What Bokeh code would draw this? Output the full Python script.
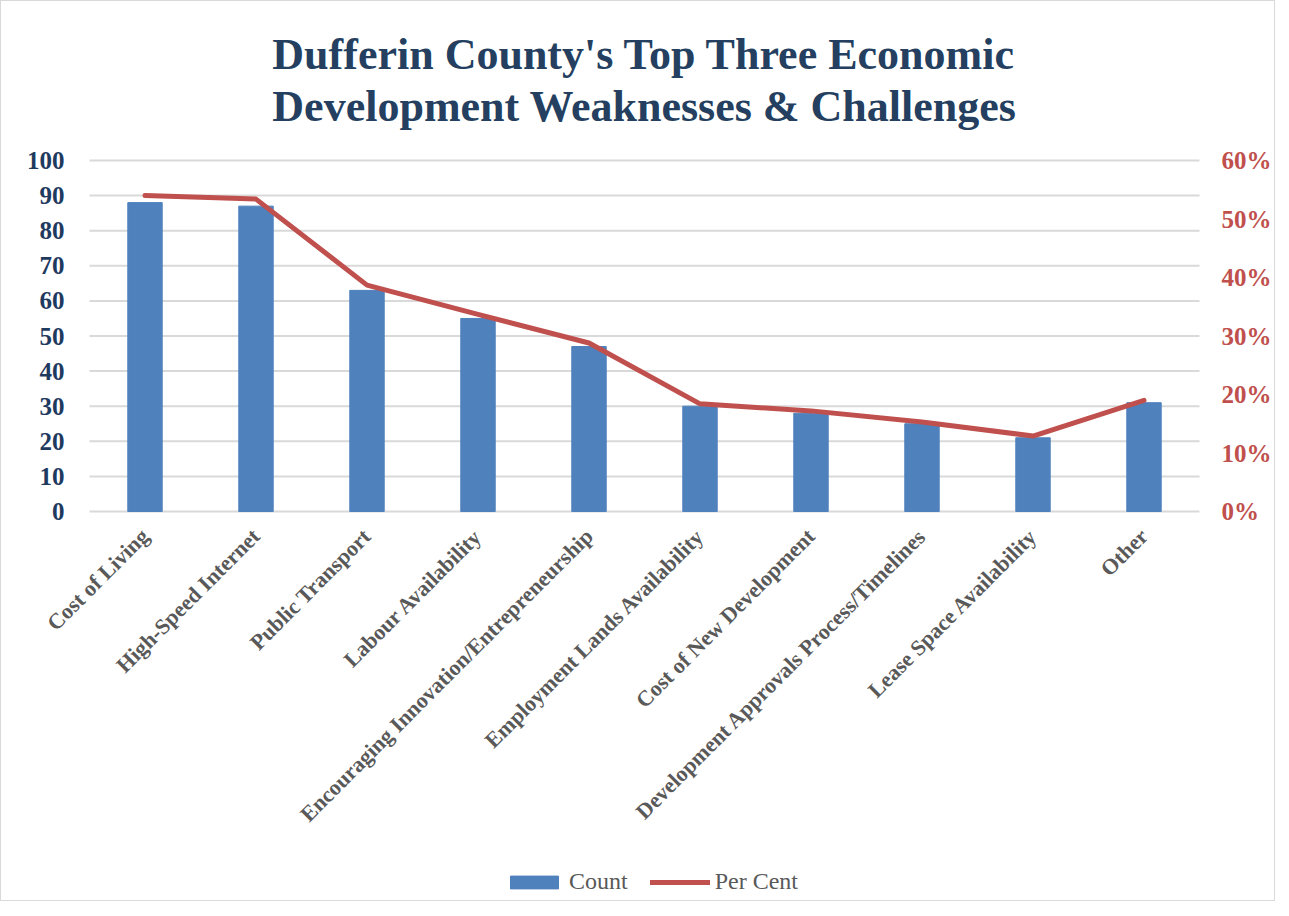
import math
from bokeh.plotting import figure
from bokeh.models import (Range1d, FactorRange, LinearAxis, FixedTicker,
                          NumeralTickFormatter, Legend, LegendItem, ColumnDataSource)
from bokeh.core.properties import value
from bokeh.embed import file_html
from bokeh.resources import INLINE

categories = ["Cost of Living", "High-Speed Internet", "Public Transport",
              "Labour Availability", "Encouraging Innovation/Entrepreneurship",
              "Employment Lands Availability", "Cost of New Development",
              "Development Approvals Process/Timelines", "Lease Space Availability",
              "Other"]
counts = [88, 87, 63, 55, 47, 30, 28, 25, 21, 31]
per_cent = [0.540, 0.534, 0.387, 0.337, 0.288, 0.184, 0.172, 0.153, 0.129, 0.190]
count_ticks = [0, 10, 20, 30, 40, 50, 60, 70, 80, 90, 100]
pct_ticks = [0.0, 0.1, 0.2, 0.3, 0.4, 0.5, 0.6]
count_max = 100
pct_max = 0.6

title_text = "Dufferin County's Top Three Economic\nDevelopment Weaknesses & Challenges"

SERIF = "Liberation Serif"
BLUE = "#4F81BD"
RED = "#C0504D"
NAVY = "#1F3A5F"
GRAY = "#595959"
GRID = "#D9D9D9"

# ---- layout (pixels) ----
CAT_PX = 111            # width of one category slot
SIDE_PAD = 48           # frame extends this far beyond the category band
BORDER_L = 40
FRAME_W = len(categories) * CAT_PX + 2 * SIDE_PAD
BORDER_R = 1271 - BORDER_L - FRAME_W
BAND_H = 351            # pixel height of the 0..100 value band
TOP_PAD = 3
BORDER_T = 155
FRAME_H = 898 - BORDER_T
PX_PER = BAND_H / count_max
y_end = count_max + TOP_PAD / PX_PER
y_start = -(FRAME_H - TOP_PAD - BAND_H) / PX_PER
ratio = pct_max / count_max

src = ColumnDataSource(dict(cat=categories, count=counts, pct=per_cent))

x_range = FactorRange(factors=categories, range_padding=SIDE_PAD / CAT_PX,
                      range_padding_units="absolute")

p = figure(x_range=x_range, y_range=Range1d(y_start, y_end),
           frame_width=FRAME_W, frame_height=FRAME_H,
           x_axis_location=None,
           output_backend="svg", toolbar_location=None,
           min_border_left=BORDER_L, min_border_right=BORDER_R,
           min_border_top=BORDER_T, min_border_bottom=0)
p.styles = {"border": "1px solid #D9D9D9"}
p.outline_line_color = None
p.extra_y_ranges = {"pct": Range1d(y_start * ratio, y_end * ratio)}
p.xgrid.grid_line_color = None
p.ygrid.grid_line_color = None

p.title.text = title_text
p.title.align = "center"
p.title.text_font = SERIF
p.title.text_font_style = "bold"
p.title.text_font_size = "44px"
p.title.text_line_height = 1.07
p.title.text_color = "#243F60"
p.title.standoff = 53

# horizontal gridlines spanning the category band
n = len(categories)
p.segment(x0=[0] * len(count_ticks), x1=[n] * len(count_ticks),
          y0=count_ticks, y1=count_ticks, line_color=GRID, line_width=2)

bars = p.vbar(x="cat", top="count", width=0.31, source=src, color=BLUE)
line = p.line(x="cat", y="pct", source=src, y_range_name="pct", color=RED,
              line_width=5, line_cap="round", line_join="round")

# category labels, rotated like an Excel category axis
p.text(x="cat", y=0, text="cat", source=src, angle=math.pi / 4,
       text_align="right", text_baseline="middle", x_offset=0, y_offset=21,
       text_font=value(SERIF), text_font_style="bold", text_font_size="22px",
       text_color=GRAY)

# left axis
ya = p.yaxis[0]
ya.ticker = FixedTicker(ticks=count_ticks)
ya.axis_line_color = None
ya.major_tick_line_color = None
ya.minor_tick_line_color = None
ya.major_label_text_font = SERIF
ya.major_label_text_font_style = "bold"
ya.major_label_text_font_size = "25px"
ya.major_label_text_color = NAVY
ya.major_label_standoff = -29

# right axis
ra = LinearAxis(y_range_name="pct", ticker=FixedTicker(ticks=pct_ticks),
                formatter=NumeralTickFormatter(format="0%"))
ra.axis_line_color = None
ra.major_tick_line_color = None
ra.minor_tick_line_color = None
ra.major_label_text_font = SERIF
ra.major_label_text_font_style = "bold"
ra.major_label_text_font_size = "25px"
ra.major_label_text_color = RED
ra.major_label_standoff = -32
p.add_layout(ra, "right")

legend = Legend(items=[LegendItem(label="Count", renderers=[bars]),
                       LegendItem(label="Per Cent", renderers=[line])],
                orientation="horizontal", location=(463, 5))
legend.padding = 0
legend.margin = 0
legend.border_line_color = None
legend.background_fill_alpha = 0
legend.label_text_font = SERIF
legend.label_text_font_size = "24px"
legend.label_text_color = GRAY
legend.glyph_width = 60
legend.glyph_height = 16
legend.spacing = 22
legend.label_standoff = 5
p.add_layout(legend, "center")

open("out.html", "w").write(file_html(p, INLINE))
